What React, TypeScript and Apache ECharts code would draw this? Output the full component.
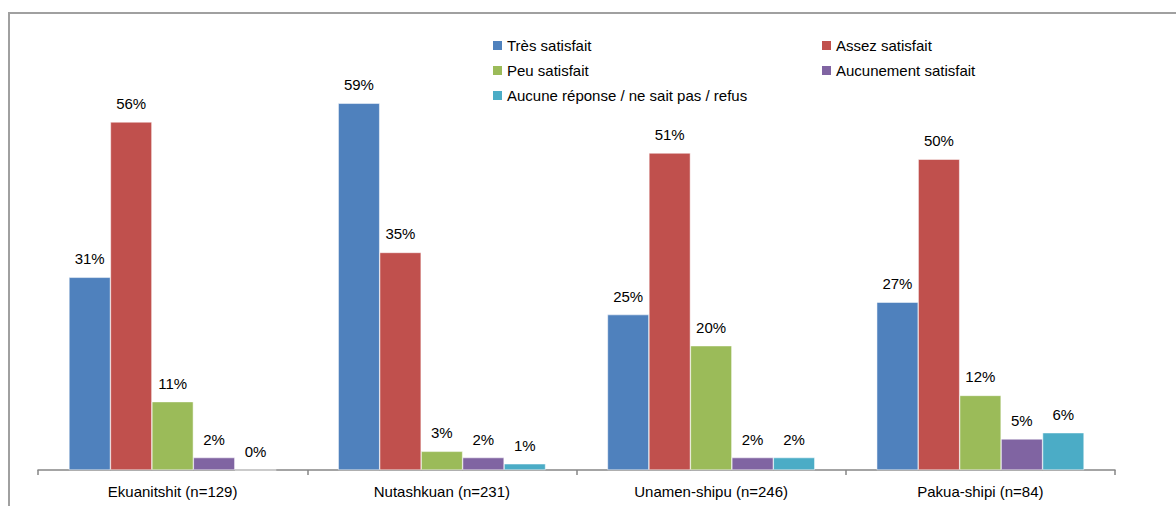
import React, { useEffect, useRef } from "react";
import * as echarts from "echarts";

const categories = ["Ekuanitshit (n=129)", "Nutashkuan (n=231)", "Unamen-shipu (n=246)", "Pakua-shipi (n=84)"];
const seriesNames = ["Très satisfait", "Assez satisfait", "Peu satisfait", "Aucunement satisfait", "Aucune réponse / ne sait pas / refus"];
const tresSatisfait = [31, 59, 25, 27];
const assezSatisfait = [56, 35, 51, 50];
const peuSatisfait = [11, 3, 20, 12];
const aucunementSatisfait = [2, 2, 2, 5];
const aucuneReponse = [0, 1, 2, 6];
const colors = ["#4F81BD", "#C0504D", "#9BBB59", "#8064A2", "#4BACC6"];

const FONT = "'Liberation Sans', Arial, sans-serif";

export default function App() {
  const ref = useRef<HTMLDivElement>(null);
  useEffect(() => {
    const chart = echarts.init(ref.current!, null, { renderer: "svg" });
    const values = [tresSatisfait, assezSatisfait, peuSatisfait, aucunementSatisfait, aucuneReponse];
    const legendCommon = {
      orient: "vertical" as const,
      itemWidth: 9,
      itemHeight: 9,
      itemGap: 10,
      itemStyle: { borderWidth: 0 },
      icon: "rect",
      textStyle: { fontFamily: FONT, fontSize: 15, color: "#000" },
      padding: 0,
    };
    chart.setOption({
      animation: false,
      textStyle: { fontFamily: FONT },
      legend: [
        { ...legendCommon, left: 493, top: 38, data: [seriesNames[0], seriesNames[2], seriesNames[4]] },
        { ...legendCommon, left: 822, top: 38, data: [seriesNames[1], seriesNames[3]] },
      ],
      grid: { left: 38, right: 61, top: 66, bottom: 36 },
      xAxis: {
        type: "category",
        data: categories,
        axisLine: { lineStyle: { color: "#868686", width: 1.5 } },
        axisTick: { show: true, length: 5, lineStyle: { color: "#868686", width: 1.5 } },
        axisLabel: { fontFamily: FONT, fontSize: 15, color: "#000", margin: 14 },
      },
      yAxis: { type: "value", min: 0, max: 65, show: false, splitLine: { show: false } },
      series: values.map((v, i) => ({
        name: seriesNames[i],
        type: "bar",
        data: v,
        barGap: "0%",
        barCategoryGap: "23%",
        itemStyle: { color: colors[i], borderColor: "#fff", borderWidth: 0.5 },
        label: {
          show: true,
          position: "top",
          distance: 11,
          formatter: "{c}%",
          fontFamily: FONT,
          fontSize: 15,
          color: "#000",
        },
      })),
    });
    return () => chart.dispose();
  }, []);
  return (
    <div style={{ position: "fixed", left: 0, top: 0, width: 1176, height: 506, overflow: "hidden", background: "#fff" }}>
      <div style={{ position: "absolute", left: 8, top: 12, width: 1168, height: 494, borderLeft: "2px solid #A0A0A0", borderTop: "2px solid #A0A0A0", boxSizing: "border-box" }} />
      <div ref={ref} style={{ position: "absolute", left: 0, top: 0, width: 1176, height: 506 }} />
    </div>
  );
}
